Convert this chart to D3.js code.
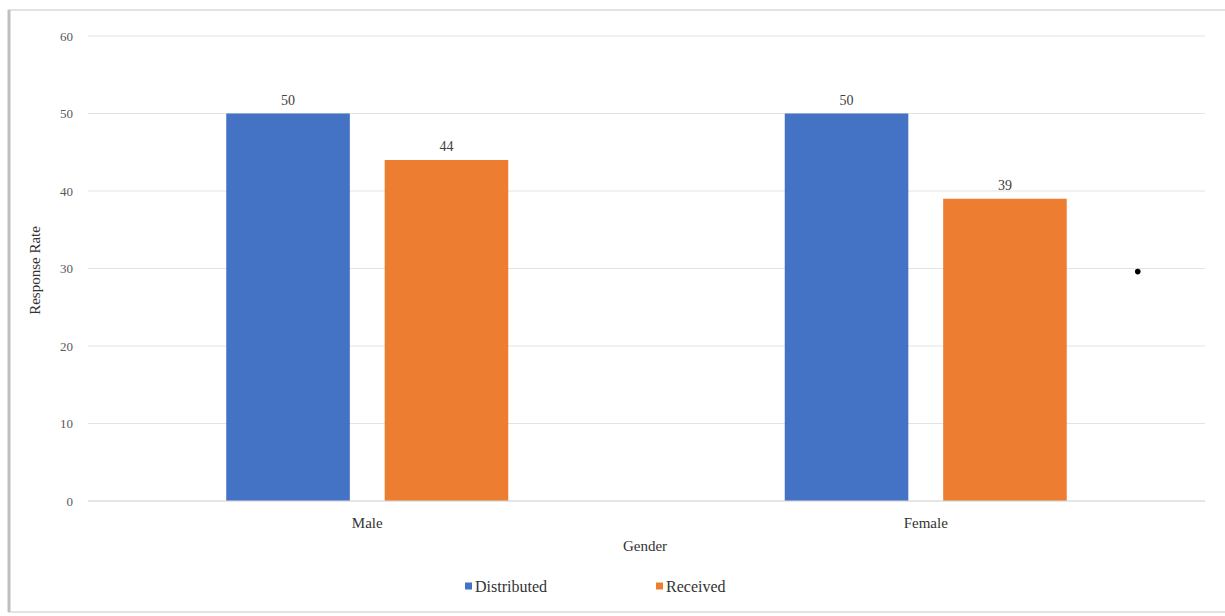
<!DOCTYPE html>
<html><head><meta charset="utf-8">
<script src="https://cdn.jsdelivr.net/npm/d3@7"></script>
<style>body{margin:0;background:#fff;} text{font-family:"Liberation Serif","DejaVu Serif",serif;}</style>
</head><body><svg id="c" width="1225" height="616"></svg>
<script>
const categories = ["Male", "Female"];
const seriesNames = ["Distributed", "Received"];
const distributed = [50, 50];
const received = [44, 39];
const yTicks = [0, 10, 20, 30, 40, 50, 60];
const colors = ["#4472C4", "#ED7D31"];
const strayDot = [{cat: "Female", value: 29.6, offset: 212}];

const svg = d3.select("#c");
const m = {left: 88, right: 1205, top: 36, bottom: 501};

// frame
svg.append("rect").attr("x", 9).attr("y", 10).attr("width", 1225).attr("height", 602)
  .attr("fill", "none").attr("stroke", "#d9d9d9").attr("stroke-width", 1.5);
svg.append("line").attr("x1", 9).attr("x2", 9).attr("y1", 10).attr("y2", 612)
  .attr("stroke", "#bfbfbf").attr("stroke-width", 3);

const y = d3.scaleLinear().domain([0, 60]).range([m.bottom, m.top]);
const x0 = d3.scaleBand().domain(categories).range([m.left, m.right]).paddingInner(0).paddingOuter(0);
const x1 = d3.scaleBand().domain(seriesNames).range([-141, 141]).paddingInner(0.22);

// grid
svg.append("g").selectAll("line").data(yTicks).join("line")
  .attr("x1", m.left).attr("x2", m.right)
  .attr("y1", d => y(d)).attr("y2", d => y(d))
  .attr("stroke", "#e3e3e3").attr("stroke-width", 1.2);

// y axis labels
svg.append("g").selectAll("text").data(yTicks).join("text")
  .attr("x", 73).attr("y", d => y(d)).attr("dy", "0.35em")
  .attr("text-anchor", "end").attr("font-size", 13).attr("fill", "#595959")
  .text(d => d);

const data = categories.map((c, i) => ({cat: c, vals: [distributed[i], received[i]]}));
const groups = svg.append("g").selectAll("g").data(data).join("g")
  .attr("transform", d => `translate(${x0(d.cat) + x0.bandwidth() / 2},0)`);
groups.selectAll("rect").data(d => d.vals.map((v, j) => ({s: seriesNames[j], v, j}))).join("rect")
  .attr("x", d => x1(d.s)).attr("width", x1.bandwidth())
  .attr("y", d => y(d.v)).attr("height", d => y(0) - y(d.v))
  .attr("fill", d => colors[d.j]);
groups.selectAll("text.lbl").data(d => d.vals.map((v, j) => ({s: seriesNames[j], v, j}))).join("text")
  .attr("class", "lbl")
  .attr("x", d => x1(d.s) + x1.bandwidth() / 2).attr("y", d => y(d.v) - 9)
  .attr("text-anchor", "middle").attr("font-size", 14).attr("fill", "#404040")
  .text(d => d.v);

// baseline
svg.append("line").attr("x1", m.left).attr("x2", m.right).attr("y1", y(0)).attr("y2", y(0))
  .attr("stroke", "#d9d9d9").attr("stroke-width", 1.2);

// x labels
svg.append("g").selectAll("text").data(categories).join("text")
  .attr("x", d => x0(d) + x0.bandwidth() / 2).attr("y", 528)
  .attr("text-anchor", "middle").attr("font-size", 15).attr("fill", "#333")
  .text(d => d);

svg.append("text").attr("x", 645).attr("y", 551).attr("text-anchor", "middle")
  .attr("font-size", 15).attr("fill", "#333").text("Gender");

svg.append("text").attr("transform", `translate(40,${(m.top + m.bottom) / 2 + 2}) rotate(-90)`)
  .attr("text-anchor", "middle").attr("font-size", 15).attr("fill", "#333").text("Response Rate");

// legend
const legX = [465, 656];
const leg = svg.append("g").selectAll("g").data(seriesNames).join("g")
  .attr("transform", (d, i) => `translate(${legX[i]},586)`);
leg.append("rect").attr("x", 0).attr("y", -3.5).attr("width", 7).attr("height", 7)
  .attr("fill", (d, i) => colors[i]);
leg.append("text").attr("x", 10).attr("y", 0).attr("dy", "0.35em")
  .attr("font-size", 16).attr("fill", "#333").text(d => d);

// stray dot in reference
svg.append("g").selectAll("circle").data(strayDot).join("circle")
  .attr("cx", d => x0(d.cat) + x0.bandwidth() / 2 + d.offset).attr("cy", d => y(d.value))
  .attr("r", 2.8).attr("fill", "#000");
</script></body></html>
